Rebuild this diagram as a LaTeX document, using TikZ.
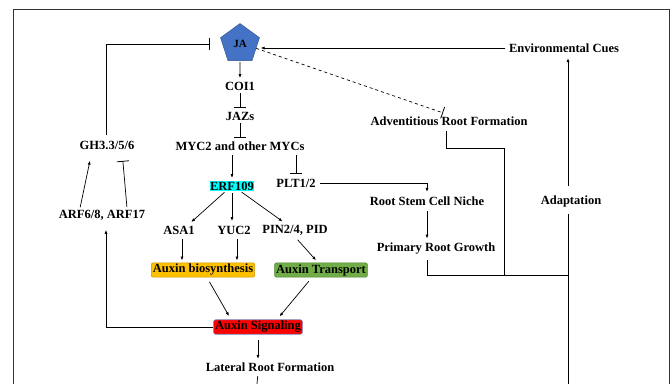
\documentclass[tikz,border=0pt]{standalone}
\usepackage{fontspec}
\setmainfont{Liberation Serif}
\usetikzlibrary{shapes.geometric,arrows.meta}
\definecolor{jablue}{HTML}{4472C4}
\definecolor{jaedge}{HTML}{2F528F}
\definecolor{erfcyan}{HTML}{00FFFF}
\definecolor{biofill}{HTML}{FFC000}
\definecolor{bioedge}{HTML}{C99700}
\definecolor{trafill}{HTML}{70AD47}
\definecolor{traedge}{HTML}{4E7F30}
\definecolor{sigedge}{HTML}{6D7FB5}
\begin{document}
\begin{tikzpicture}
  [x=1pt,y=-1pt,
   every node/.style={font=\fontsize{12.5}{14}\selectfont\bfseries,inner sep=1.5pt},
   jaspot/.style={regular polygon,regular polygon sides=5,minimum size=41pt,inner sep=0pt,fill=jablue,draw=jaedge,font=\fontsize{11}{13}\selectfont\bfseries},
   auxbox/.style={rounded corners=2pt,inner sep=1.5pt,line width=0.6pt},
   arr/.style={-{Latex[length=4pt,width=3pt]},line width=0.7pt},
   inh/.style={-{Bar[width=12pt,line width=0.8pt]},line width=0.7pt},
   link/.style={line width=0.7pt}]
  \useasboundingbox (0,0) rectangle (672,384);
  \draw[line width=0.6pt,black!80] (13,384) -- (13,9) -- (669,9) -- (669,384);

  \node[jaspot] (ja) at (240,44) {JA};
  \node (coi) at (240,86) {COI1};
  \node (jaz) at (240,116) {JAZs};
  \node (myc) at (240,146) {MYC2 and other MYCs};
  \node[fill=erfcyan,inner sep=0.5pt] (erf) at (232,186) {ERF109};
  \node (plt) at (296,183) {PLT1/2};
  \node (asa) at (179,230) {ASA1};
  \node (yuc) at (234,230) {YUC2};
  \node (pin) at (295,230) {PIN2/4, PID};
  \node[auxbox,fill=biofill,draw=bioedge] (bio) at (203,270) {Auxin biosynthesis};
  \node[auxbox,fill=trafill,draw=traedge] (tra) at (321,270) {Auxin Transport};
  \node[auxbox,fill=red,draw=sigedge] (sig) at (258,327) {Auxin Signaling};
  \node (lat) at (270,367) {Lateral Root Formation};
  \node (gh) at (107,145) {GH3.3/5/6};
  \node (arf) at (102,215) {ARF6/8, ARF17};
  \node (env) at (564,48) {Environmental Cues};
  \node (adv) at (449,121) {Adventitious Root Formation};
  \node (rsc) at (427,201) {Root Stem Cell Niche};
  \node (prg) at (436,249) {Primary Root Growth};
  \node (ada) at (571,201) {Adaptation};

  \coordinate (advbend) at (504,148);
  \coordinate (join) at (504,275);
  \coordinate (adabot) at (568,384);
  \coordinate (latbot) at (257,384);

  % JA core signalling
  \draw[arr,shorten <=1pt,shorten >=2pt] (ja.south) -- (coi.north);
  \foreach \from/\to in {coi/jaz,jaz/myc}
    \draw[inh,shorten <=1pt,shorten >=2pt] (\from.south) -- (\to.north);
  \draw[arr,shorten <=3pt,shorten >=3pt] (erf |- myc.south) -- (erf.north);
  \draw[inh,shorten <=3pt,shorten >=3pt] (plt |- myc.south) -- (plt.north);
  \draw[arr,shorten <=2pt,shorten >=3pt] ([xshift=-6pt]erf.south) -- ([xshift=10pt]asa.north);
  \draw[arr,shorten <=2pt,shorten >=3pt] (erf.south) -- (erf.south |- yuc.north);
  \draw[arr,shorten <=2pt,shorten >=3pt] ([xshift=8pt]erf.south) -- ([xshift=-10pt]pin.north);
  \foreach \from in {asa,yuc}
    \draw[arr,shorten <=3pt,shorten >=2pt] ([xshift=3pt]\from.south) -- ([xshift=3pt]\from.south |- bio.north);
  \draw[arr,shorten <=4pt,shorten >=3pt] (pin.south) -- ([xshift=-3pt]tra.north);
  \draw[arr,shorten <=5pt,shorten >=4pt] ([xshift=4pt]bio.south) -- ([xshift=-27pt]sig.north);
  \draw[arr,shorten <=5pt,shorten >=4pt] ([xshift=-9pt]tra.south) -- ([xshift=19pt]sig.north);
  \draw[arr,shorten <=5pt,shorten >=2pt] (sig.south) -- (sig.south |- lat.north);
  \draw[link,shorten <=3pt] (lat.south -| sig.south) -- (latbot);

  % auxin feedback on JA
  \draw[arr,shorten >=8pt] (sig.west) -| ([xshift=4pt]arf.south);
  \draw[arr,shorten <=1pt,shorten >=10pt] ([xshift=-22pt]arf.north) -- ([xshift=-15pt]gh.south);
  \draw[inh,shorten <=1pt,shorten >=10pt] ([xshift=25pt]arf.north) -- ([xshift=15pt]gh.south);
  \draw[inh,shorten <=4pt,shorten >=13pt] ([xshift=-1pt]gh.north) |- (ja.west);

  % root growth and environment
  \draw[arr,shorten <=2pt] (env.west) -- ([xshift=3pt]env.west -| ja.east);
  \draw[inh,dashed] (ja.-15) -- ([xshift=-6pt,yshift=2pt]adv.north);
  \draw[arr,shorten <=3pt,shorten >=3pt] (plt.east) -| (rsc.north);
  \draw[arr,shorten <=4pt,shorten >=3pt] (rsc.south) -- (rsc.south |- prg.north);
  \draw[link,shorten <=4pt] ([xshift=-3pt]adv.south) |- (advbend) -- (join);
  \draw[link,shorten <=4pt] (rsc.south |- prg.south) |- (join -| adabot);
  \draw[link,shorten <=6pt] (ada.south -| adabot) -- (adabot);
  \draw[arr,shorten <=8pt,shorten >=4pt] (ada.north -| adabot) -- (adabot |- env.south);
\end{tikzpicture}
\end{document}
